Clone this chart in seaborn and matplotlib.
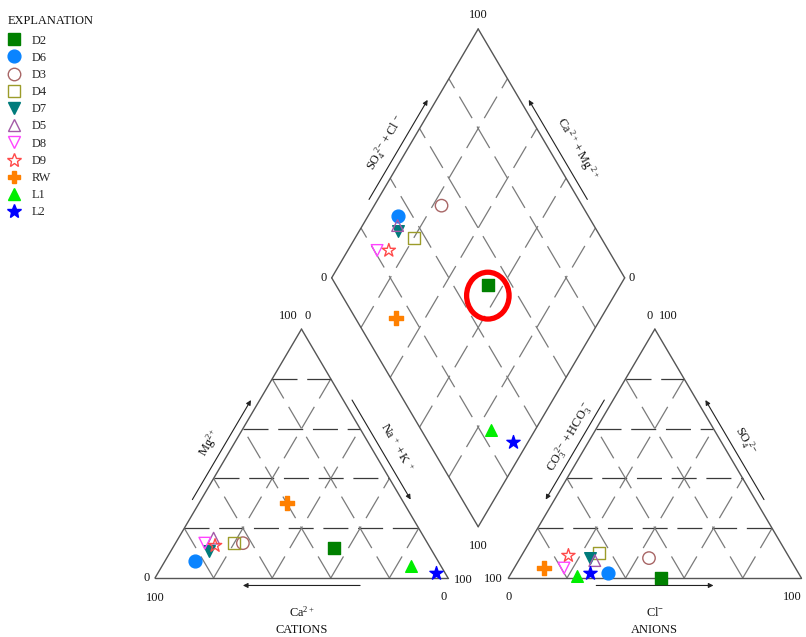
import numpy as np
import pandas as pd
import matplotlib
matplotlib.use("Agg")
import matplotlib.pyplot as plt
from matplotlib.patches import Ellipse
from matplotlib.lines import Line2D
import seaborn as sns

# ---- sample chemistry (percent of meq totals) ----
samples = ["D2", "D6", "D3", "D4", "D7", "D5", "D8", "D9", "RW", "L1", "L2"]
mg   = [12, 7, 14, 14, 11, 16, 14, 13, 30, 5, 2]      # Mg2+
na_k = [55, 10, 23, 20, 13, 12, 10, 14, 30, 85, 95]   # Na+ + K+
so4  = [0, 2, 8, 10, 8, 7, 4, 9, 4, 1, 2]             # SO4 2-
cl   = [52, 33, 44, 26, 24, 26, 17, 16, 10, 23, 27]   # Cl-

# ---- symbol styling per sample ----
colors = ["#008000", "#0A84FF", "#A86666", "#9C9C2A", "#007B7B", "#A45AA8",
          "#FF44FF", "#FF4A4A", "#FF8000", "#00EE00", "#0000FF"]
markers = ["s", "o", "o", "s", "v", "^", "v", "*", "P", "^", "*"]
filled = [True, True, False, False, True, False, False, False, True, True, True]
sizes = [85, 85, 80, 80, 70, 70, 70, 100, 90, 70, 100]
leg_ms = [8.8, 9.2, 9.0, 8.8, 8.2, 8.2, 8.2, 10.0, 9.0, 8.4, 10.0]

FS = 8.9

sns.set_theme(style="white")
plt.rcParams["font.family"] = ["Liberation Serif", "DejaVu Serif"]
plt.rcParams["mathtext.fontset"] = "custom"
plt.rcParams["mathtext.rm"] = "Liberation Serif"
plt.rcParams["mathtext.it"] = "Liberation Serif:italic"
plt.rcParams["lines.scale_dashes"] = False

G = 0.206                 # gap between the two triangles (side = 1)
H = np.sqrt(3) / 2

df = pd.DataFrame({"sample": samples, "mg": mg, "nak": na_k, "so4": so4, "cl": cl})
f_mg, f_nak = df["mg"] / 100, df["nak"] / 100
f_so4, f_cl = df["so4"] / 100, df["cl"] / 100
df["cx"] = f_nak + f_mg / 2
df["cy"] = f_mg * H
df["ax"] = 1 + G + f_cl + f_so4 / 2
df["ay"] = f_so4 * H
DB = np.array([1 + G / 2, G * H])
df["dx"] = DB[0] - (1 - f_nak) / 2 + (f_so4 + f_cl) / 2
df["dy"] = DB[1] + H * ((1 - f_nak) + (f_so4 + f_cl))

fig = plt.figure(figsize=(8.06, 6.37), dpi=100)
ax = fig.add_axes([0, 0, 1, 1])
ax.set_xlim(-155 / 293, 651 / 293)
ax.set_ylim(-59 / 287.4, 578 / 287.4)
ax.axis("off")

OUT = "#555555"
L0, L1, LA = np.array([0, 0]), np.array([1, 0]), np.array([0.5, H])
R0, R1, RA = np.array([1 + G, 0]), np.array([2 + G, 0]), np.array([1.5 + G, H])
DL, DR, DT = DB + [-0.5, H], DB + [0.5, H], DB + [0, 2 * H]

def seg(p, q, **kw):
    ax.plot([p[0], q[0]], [p[1], q[1]], **kw)

dash_h = dict(color="#3a3a3a", lw=0.9, ls=(0, (18, 7)))
dash_d = dict(color="#7a7a7a", lw=0.9, ls=(0, (18, 7)))

# triangles: outline + 20 % grid
for A, B, C in [(L0, L1, LA), (R0, R1, RA)]:
    for k in (0.2, 0.4, 0.6, 0.8):
        seg(A + k * (C - A), B + k * (C - B), **dash_h)
        seg(A + k * (B - A), C + k * (B - C), **dash_d)
        seg(B + k * (A - B), C + k * (A - C), **dash_d)
    seg(A, B, color=OUT, lw=1.0); seg(B, C, color=OUT, lw=1.0); seg(C, A, color=OUT, lw=1.0)

# diamond: outline + grid
for k in (0.2, 0.4, 0.6, 0.8):
    seg(DB + k * (DL - DB), DR + k * (DT - DR), **dash_d)
    seg(DB + k * (DR - DB), DL + k * (DT - DL), **dash_d)
for p, q in [(DB, DL), (DL, DT), (DT, DR), (DR, DB)]:
    seg(p, q, color=OUT, lw=1.0)

# sample symbols in the three fields
for i, row in df.iterrows():
    for xc, yc in (("cx", "cy"), ("ax", "ay"), ("dx", "dy")):
        kw = dict(marker=markers[i], s=sizes[i], linewidth=1.0, zorder=5)
        if filled[i]:
            kw.update(color=colors[i], edgecolor=colors[i])
        else:
            kw.update(facecolor="none", edgecolor=colors[i])
        sns.scatterplot(x=[row[xc]], y=[row[yc]], ax=ax, legend=False, **kw)

# highlight ring around D2 in the diamond
d2 = df.loc[df["sample"] == "D2"].iloc[0]
ax.add_patch(Ellipse((d2["dx"] - 0.002, d2["dy"] - 0.036), 0.145, 0.163,
                     fill=False, edgecolor="#FF0000", lw=3.8, zorder=6))

# ---- edge arrows and labels ----
def outward(p, q, centre):
    d = (q - p) / np.linalg.norm(q - p)
    n = np.array([-d[1], d[0]])
    m = (p + q) / 2
    return n if np.dot(m - centre, n) > 0 else -n

def edge_arrow(p, q, centre, off=0.026):
    n = outward(p, q, centre)
    a = p + 0.3 * (q - p) + n * off
    b = p + 0.7 * (q - p) + n * off
    ax.annotate("", xy=b, xytext=a,
                arrowprops=dict(arrowstyle="-|>", color="#222222", lw=0.8,
                                mutation_scale=7, shrinkA=0, shrinkB=0))

def edge_text(p, q, centre, t, off, s, rot):
    n = outward(p, q, centre)
    pos = p + t * (q - p) + n * off
    ax.text(pos[0], pos[1], s, rotation=rot, ha="center", va="center",
            fontsize=FS, color="#111111", rotation_mode="anchor")

cL = (L0 + L1 + LA) / 3
cR = (R0 + R1 + RA) / 3
cD = (DB + DT) / 2

edge_arrow(L0, LA, cL); edge_arrow(LA, L1, cL); edge_arrow(L1, L0, cL)
edge_arrow(RA, R0, cR); edge_arrow(R1, RA, cR); edge_arrow(R0, R1, cR)
edge_arrow(DL, DT, cD); edge_arrow(DR, DT, cD)

edge_text(L0, LA, cL, 0.5, 0.072, r"$\mathrm{Mg^{2+}}$", 60)
edge_text(LA, L1, cL, 0.52, 0.075, r"$\mathrm{Na^{\ +} + K^{\ +}}$", -60)
edge_text(R0, RA, cR, 0.53, 0.062, r"$\mathrm{CO_3^{\ 2-} + HCO_3^{\ -}}$", 60)
edge_text(RA, R1, cR, 0.49, 0.072, r"$\mathrm{SO_4^{\ 2-}}$", -60)
edge_text(DL, DT, cD, 0.5, 0.075, r"$\mathrm{SO_4^{\ 2-} + Cl^{\ -}}$", 60)
edge_text(DR, DT, cD, 0.47, 0.082, r"$\mathrm{Ca^{\ 2+} + Mg^{\ 2+}}$", -60)

def lab(pt, dx, dy, s, ha="center", size=FS):
    ax.annotate(s, xy=pt, xytext=(dx, dy), textcoords="offset pixels",
                ha=ha, va="center", fontsize=size, color="#111111")

lab((L0 + L1) / 2, 0, -34, r"$\mathrm{Ca^{2+}}$")
lab((L0 + L1) / 2, 0, -52, "CATIONS")
lab((R0 + R1) / 2, 0, -34, r"$\mathrm{Cl^{-}}$")
lab((R0 + R1) / 2, 0, -52, "ANIONS")

# percentage ends
lab(L0, -8, 0, "0"); lab(L0, 0, -20, "100")
lab(L1, -4, -19, "0"); lab(L1, 15, -2, "100")
lab(LA, -3.5, 13, "100", ha="right"); lab(LA, 3, 13, "0", ha="left")
lab(R0, -15, -1, "100"); lab(R0, 0, -19, "0")
lab(R1, -9, -19, "100")
lab(RA, -2.5, 13, "0", ha="right"); lab(RA, 4, 13, "100", ha="left")
lab(DT, 0, 14, "100"); lab(DB, 0, -19, "100")
lab(DL, -8, 0, "0"); lab(DR, 7, 0, "0")

# explanation block
W, HPX = 806, 637
fig.text(8 / W, 1 - 21 / HPX, "EXPLANATION", ha="left", va="center",
         fontsize=FS, color="#111111")
handles = []
for i, name in enumerate(samples):
    handles.append(Line2D([], [], ls="none", marker=markers[i], markersize=leg_ms[i],
                          markerfacecolor=colors[i] if filled[i] else "none",
                          markeredgecolor=colors[i], markeredgewidth=1.0, label=name))
leg = fig.legend(handles=handles, loc="upper left",
                 bbox_to_anchor=(8.6 / W, 1 - 34.5 / HPX), frameon=False, fontsize=FS,
                 handlelength=0.9, handletextpad=1.0, labelspacing=0.42,
                 borderpad=0, borderaxespad=0)

fig.savefig("out.png", dpi=100)
